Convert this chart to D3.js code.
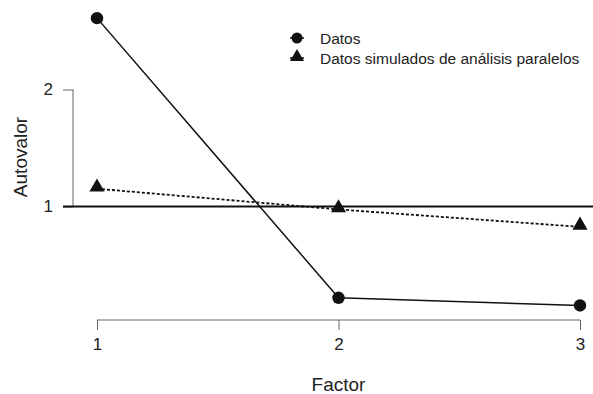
<!DOCTYPE html>
<html>
<head>
<meta charset="utf-8">
<script src="https://cdn.jsdelivr.net/npm/d3@7"></script>
<style>
  html, body { margin: 0; padding: 0; background: #fff; }
  svg { display: block; font-family: "Liberation Sans", Arial, sans-serif; }
</style>
</head>
<body>
<svg id="chart" width="593" height="394"></svg>
<script>
// Scree plot: observed eigenvalues vs. parallel-analysis simulated eigenvalues
const factors = [1, 2, 3];
const datos = [2.61, 0.22, 0.154];
const simulados = [1.152, 0.975, 0.826];
const yTicks = [1, 2];
const xTicks = [1, 2, 3];
const legendLabels = ["Datos", "Datos simulados de análisis paralelos"];
const axisTitles = { x: "Factor", y: "Autovalor" };

const svg = d3.select("#chart");

const x = d3.scaleLinear().domain([1, 3]).range([97, 580]);
const y = d3.scaleLinear().domain([1, 2]).range([206.5, 89.5]);

const ink = "#111";

// y axis (spans only the tick range)
const yAxis = svg.append("g").attr("transform", "translate(73,0)")
  .call(d3.axisLeft(y).tickValues(yTicks).tickFormat(d3.format("d")).tickSize(10).tickPadding(10));
yAxis.select(".domain").attr("d", `M0,${y(1)}V${y(2)}`).attr("stroke", "#666");
yAxis.selectAll(".tick line").attr("stroke", "#666");
yAxis.selectAll(".tick text").attr("font-size", 17).attr("fill", "#222")
  .attr("font-family", "Liberation Sans, Arial, sans-serif");

// x axis
const xAxis = svg.append("g").attr("transform", "translate(0,320)")
  .call(d3.axisBottom(x).tickValues(xTicks).tickFormat(d3.format("d")).tickSize(10).tickPadding(8));
xAxis.select(".domain").attr("d", `M${x(1)},0H${x(3)}`).attr("stroke", "#666");
xAxis.selectAll(".tick line").attr("stroke", "#666");
xAxis.selectAll(".tick text").attr("font-size", 17).attr("fill", "#222")
  .attr("font-family", "Liberation Sans, Arial, sans-serif");

// reference line at eigenvalue 1
svg.append("line")
  .attr("x1", 63).attr("x2", 593)
  .attr("y1", y(1)).attr("y2", y(1))
  .attr("stroke", ink).attr("stroke-width", 2);

const line = d3.line().x((d, i) => x(factors[i])).y(d => y(d));

// simulated series (dotted)
svg.append("path").datum(simulados)
  .attr("d", line).attr("fill", "none")
  .attr("stroke", ink).attr("stroke-width", 1.8).attr("stroke-dasharray", "3,2");

// observed series
svg.append("path").datum(datos)
  .attr("d", line).attr("fill", "none")
  .attr("stroke", ink).attr("stroke-width", 1.5);

const tri = d3.symbol().type(d3.symbolTriangle).size(100);

svg.selectAll(".tri").data(simulados).join("path")
  .attr("class", "tri")
  .attr("d", tri)
  .attr("transform", (d, i) => `translate(${x(factors[i])},${y(d) - 1.5})`)
  .attr("fill", ink);

svg.selectAll(".dot").data(datos).join("circle")
  .attr("class", "dot")
  .attr("cx", (d, i) => x(factors[i])).attr("cy", d => y(d))
  .attr("r", 6.2).attr("fill", ink);

// legend
const lg = svg.append("g").attr("transform", "translate(297,38)");
lg.append("line").attr("x1", -7).attr("x2", 7).attr("y1", 0).attr("y2", 0)
  .attr("stroke", ink).attr("stroke-width", 1.5);
lg.append("circle").attr("r", 5.5).attr("fill", ink);
lg.append("line").attr("x1", -7).attr("x2", 7).attr("y1", 20).attr("y2", 20)
  .attr("stroke", ink).attr("stroke-width", 1.5).attr("stroke-dasharray", "2,1");
lg.append("path").attr("d", d3.symbol().type(d3.symbolTriangle).size(85))
  .attr("transform", "translate(0,19)").attr("fill", ink);
lg.selectAll("text").data(legendLabels).join("text")
  .attr("x", 23).attr("y", (d, i) => i * 20)
  .attr("dy", "0.36em")
  .attr("font-size", 15.5).attr("fill", "#222")
  .text(d => d);

// axis titles
svg.append("text")
  .attr("x", x(2)).attr("y", 384)
  .attr("dy", "0.36em")
  .attr("text-anchor", "middle")
  .attr("font-size", 19).attr("fill", "#222")
  .text(axisTitles.x);

svg.append("text")
  .attr("transform", "translate(20,157) rotate(-90)")
  .attr("dy", "0.36em")
  .attr("text-anchor", "middle")
  .attr("font-size", 19).attr("fill", "#222")
  .text(axisTitles.y);
</script>
</body>
</html>
